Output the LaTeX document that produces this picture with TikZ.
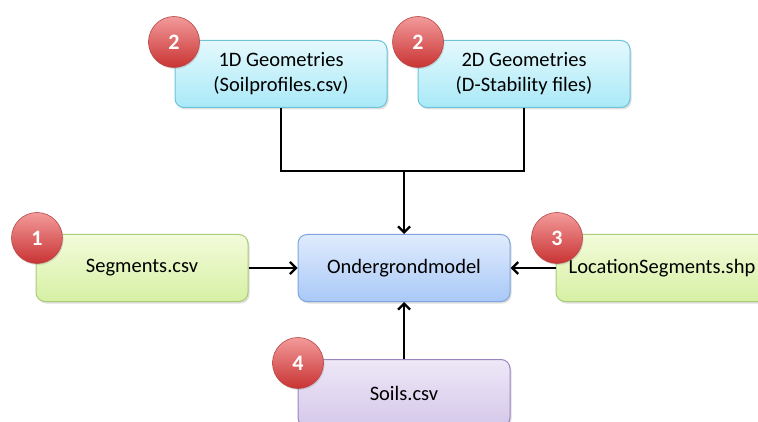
\documentclass[tikz,border=0pt]{standalone}
\usepackage{fontspec}
\setmainfont{Carlito}
\usetikzlibrary{arrows.meta,shadows}

\definecolor{cyanT}{HTML}{E4F9FD}
\definecolor{cyanB}{HTML}{A9E9F7}
\definecolor{cyanL}{HTML}{6CC3DA}
\definecolor{greenT}{HTML}{F3FBDA}
\definecolor{greenB}{HTML}{D6F0A4}
\definecolor{greenL}{HTML}{AACB78}
\definecolor{blueT}{HTML}{E0EBFD}
\definecolor{blueB}{HTML}{A9C9F7}
\definecolor{blueL}{HTML}{7FA4DB}
\definecolor{lilaT}{HTML}{EEE8F7}
\definecolor{lilaB}{HTML}{D5C8EA}
\definecolor{lilaL}{HTML}{9C86C2}
\definecolor{redT}{HTML}{F39A9A}
\definecolor{redB}{HTML}{C93333}
\definecolor{redL}{HTML}{B84848}

\tikzset{
	box/.style={rounded corners=9pt, minimum width=212pt, minimum height=67pt,
		align=center, font=\fontsize{20.5}{25}\selectfont, line width=1pt,
		drop shadow={opacity=0.25, shadow xshift=1.5pt, shadow yshift=-2pt}},
	cyanbox/.style={box, draw=cyanL, top color=cyanT, bottom color=cyanB},
	greenbox/.style={box, draw=greenL, top color=greenT, bottom color=greenB},
	bluebox/.style={box, draw=blueL, top color=blueT, bottom color=blueB},
	lilabox/.style={box, draw=lilaL, top color=lilaT, bottom color=lilaB},
	num/.style={circle, minimum size=51pt, inner sep=0pt, draw=redL, line width=0.6pt,
		top color=redT, bottom color=redB, text=white,
		font=\fontsize{22}{24}\selectfont\bfseries,
		drop shadow={opacity=0.25, shadow xshift=1pt, shadow yshift=-1.5pt}},
	feed/.style={line width=2.3pt, -{Straight Barb[length=6pt,width=12pt,line width=2.3pt]}}
}

\begin{document}
\begin{tikzpicture}[x=1pt, y=-1pt]
		\useasboundingbox (0, 0) rectangle (758, 422);

		\node[cyanbox] (geo1) at (281, 74)		{1D Geometries\\(Soilprofiles.csv)};
		\node[cyanbox] (geo2) at (524, 74)		{2D Geometries\\(D-Stability files)};
		\node[greenbox] (seg) at (142, 268)		{Segments.csv};
		\node[bluebox] (model) at (404, 268)		{Ondergrondmodel};
		\node[greenbox] (loc) at (662, 268)		{LocationSegments.shp};
		\node[lilabox] (soils) at (404, 393)		{Soils.csv};

		\node[num] (n2a) at (174, 42)		{2};
		\node[num] (n2b) at (418, 42)		{2};
		\node[num] (n1) at (37, 238)		{1};
		\node[num] (n3) at (557, 238)		{3};
		\node[num] (n4) at (298, 363)		{4};

		\coordinate (join) at (404, 171);
		\draw[line width=2.3pt] (geo1) -- (geo1 |- join) -- (geo2 |- join) -- (geo2);
		\draw[feed] (join) -- (model);
		\draw[feed] (seg) -- (model);
		\draw[feed] (loc) -- (model);
		\draw[feed] (soils) -- (model);
	\end{tikzpicture}
\end{document}
